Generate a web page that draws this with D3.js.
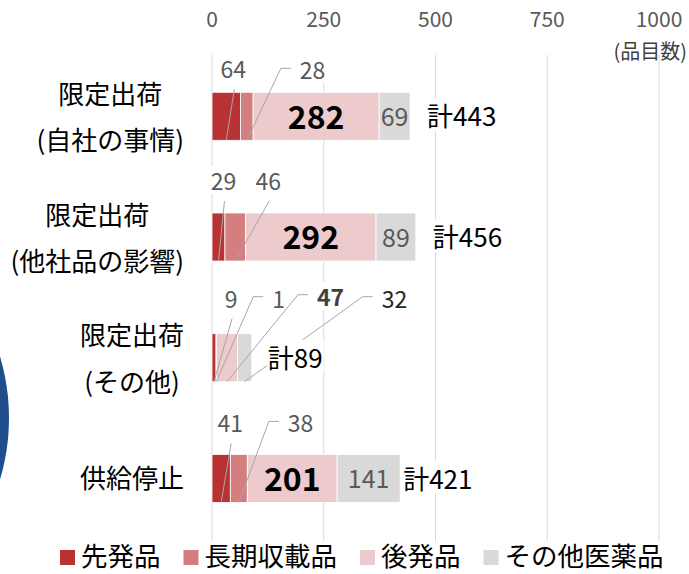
<!DOCTYPE html>
<html>
<head>
<meta charset="utf-8">
<script src="https://cdn.jsdelivr.net/npm/d3@7"></script>
<style>
  body { margin: 0; background: #fff; }
  svg text { font-family: "Noto Sans CJK JP", "Noto Sans", sans-serif; }
</style>
</head>
<body>
<svg width="689" height="574"></svg>
<script>
// data
const categories = [["限定出荷", "(自社の事情)"], ["限定出荷", "(他社品の影響)"], ["限定出荷", "(その他)"], ["供給停止"]];
const seriesNames = ["先発品", "長期収載品", "後発品", "その他医薬品"];
const brand      = [64, 29, 9, 41];
const longListed = [28, 46, 1, 38];
const generic    = [282, 292, 47, 201];
const other      = [69, 89, 32, 141];
const totals     = [443, 456, 89, 421];
const xTicks     = [0, 250, 500, 750, 1000];

const colours = ["#b83234", "#d47e7f", "#edcacc", "#d9d9d9"];

// hand placed callouts (offsets in px from segment centre / bar top)
const callouts = [
  {row: 0, s: 0, dx: 7,   dy: -22},
  {row: 0, s: 1, dx: 53,  dy: -21, elbow: true},
  {row: 1, s: 0, dx: 5,   dy: -31},
  {row: 1, s: 1, dx: 33,  dy: -31},
  {row: 2, s: 0, dx: 17,  dy: -34},
  {row: 2, s: 1, dx: 56,  dy: -34, elbow: true},
  {row: 2, s: 2, dx: 90,  dy: -36, elbow: true, bold: true},
  {row: 2, s: 3, dx: 137, dy: -34, elbow: true, dark: true},
  {row: 3, s: 0, dx: 9,   dy: -30},
  {row: 3, s: 1, dx: 49,  dy: -30, elbow: true}
];
const totalDx = [17, 17, 16, 3];

const svg = d3.select("svg");
const barH = 48;

const xScale = d3.scaleLinear().domain([0, 1000]).range([212, 659]);
const yScale = d3.scalePoint().domain(d3.range(categories.length)).range([116.3, 478.4]);

const series = [brand, longListed, generic, other];
const rows = categories.map(function(c, i) {
  let x0 = 0;
  return series.map(function(s, k) {
    const seg = {row: i, s: k, v: s[i], x0: x0, x1: x0 + s[i]};
    x0 += s[i];
    return seg;
  });
});

// decorative circle at the left edge
svg.append("circle")
    .attr("cx", -206).attr("cy", 418).attr("r", 215)
    .attr("fill", "#1f4e8d");

// gridlines
svg.append("g").selectAll("line")
  .data(xTicks)
  .enter().append("line")
    .attr("x1", xScale).attr("x2", xScale)
    .attr("y1", 55).attr("y2", 541)
    .attr("stroke", "#d9d9d9")
    .attr("stroke-width", 1);

// top axis labels
svg.append("g").selectAll("text")
  .data(xTicks)
  .enter().append("text")
    .attr("x", xScale)
    .attr("y", 20)
    .attr("dy", "0.35em")
    .attr("text-anchor", "middle")
    .attr("font-size", 21)
    .attr("fill", "#595959")
    .text(function(d) { return d; });

svg.append("text")
    .attr("x", 687).attr("y", 52)
    .attr("dy", "0.35em")
    .attr("text-anchor", "end")
    .attr("font-size", 20)
    .attr("fill", "#404040")
    .text("(品目数)");

// category labels, each block centred and right aligned
categories.forEach(function(lines, i) {
  const g = svg.append("g");
  const cy = yScale(i);
  const offs = lines.length === 1 ? [0] : [-21.5, 25];
  const t = g.selectAll("text").data(lines).enter().append("text")
      .attr("y", function(d, j) { return cy + offs[j]; })
      .attr("dy", "0.35em")
      .attr("text-anchor", "middle")
      .attr("font-size", 26)
      .attr("fill", "#000")
      .text(function(d) { return d; });
  const w = d3.max(t.nodes(), function(n) { return n.getComputedTextLength(); });
  t.attr("x", 184 - w / 2);
});

// bars
const bar = svg.append("g").selectAll("g")
  .data(rows)
  .enter().append("g");

bar.selectAll("rect")
  .data(function(d) { return d; })
  .enter().append("rect")
    .attr("x", function(d) { return xScale(d.x0); })
    .attr("width", function(d) { return xScale(d.x1) - xScale(d.x0); })
    .attr("y", function(d) { return yScale(d.row) - barH / 2; })
    .attr("height", barH)
    .attr("fill", function(d) { return colours[d.s]; })
    .attr("stroke", "#fff")
    .attr("stroke-width", 0.8);

// labels inside bars (segments without a callout)
const inside = [];
rows.forEach(function(r) {
  r.forEach(function(seg) {
    if (seg.s >= 2 && !callouts.some(function(c) { return c.row === seg.row && c.s === seg.s; })) inside.push(seg);
  });
});

svg.append("g").selectAll("text")
  .data(inside)
  .enter().append("text")
    .attr("x", function(d) { return (xScale(d.x0) + xScale(d.x1)) / 2; })
    .attr("y", function(d) { return yScale(d.row) + 1; })
    .attr("dy", "0.35em")
    .attr("text-anchor", "middle")
    .attr("font-size", function(d) { return d.s === 2 ? 32 : 25; })
    .attr("font-weight", function(d) { return d.s === 2 ? "bold" : "normal"; })
    .attr("fill", function(d) { return d.s === 2 ? "#000" : "#595959"; })
    .text(function(d) { return d.v; });

// callouts with leader lines
const cg = svg.append("g");
callouts.forEach(function(c) {
  const seg = rows[c.row][c.s];
  const sx = (xScale(seg.x0) + xScale(seg.x1)) / 2;
  const top = yScale(c.row) - barH / 2;
  const bottom = top + barH;
  const lx = sx + c.dx, ly = top + c.dy;
  const pts = c.elbow
    ? [[sx, bottom], [lx - 19, ly - 3], [lx - 9, ly - 3]]
    : [[sx, bottom], [lx + 1, ly + 19]];
  cg.append("path")
      .attr("d", d3.line()(pts))
      .attr("fill", "none")
      .attr("stroke", "#a6a6a6")
      .attr("stroke-width", 1);
  const t = cg.append("text")
      .attr("x", lx)
      .attr("y", ly)
      .attr("dy", "0.35em")
      .attr("text-anchor", c.elbow ? "start" : "middle")
      .attr("font-size", 23)
      .attr("font-weight", c.bold ? "bold" : "normal")
      .attr("fill", c.bold ? "#404040" : (c.dark ? "#262626" : "#595959"))
      .text(seg.v);
  const b = t.node().getBBox();
  cg.insert("rect", function() { return t.node(); })
      .attr("x", b.x - 1).attr("y", b.y + 3)
      .attr("width", b.width + 2).attr("height", b.height - 6)
      .attr("fill", "#fff");
});

// totals
const tg = svg.append("g");
totals.forEach(function(v, i) {
  const t = tg.append("text")
      .attr("x", xScale(v) + totalDx[i])
      .attr("y", yScale(i) + 1)
      .attr("dy", "0.35em")
      .attr("font-size", 26)
      .attr("fill", "#000")
      .text("計" + v);
  const b = t.node().getBBox();
  tg.insert("rect", function() { return t.node(); })
      .attr("x", b.x - 1).attr("y", b.y + 2)
      .attr("width", b.width + 2).attr("height", b.height - 4)
      .attr("fill", "#fff");
});

// legend
const legend = svg.append("g");
let lx = 60;
seriesNames.forEach(function(name, i) {
  legend.append("rect")
      .attr("x", lx).attr("y", 550)
      .attr("width", 15).attr("height", 15)
      .attr("fill", colours[i]);
  const t = legend.append("text")
      .attr("x", lx + 21)
      .attr("y", 557)
      .attr("dy", "0.35em")
      .attr("font-size", 26.5)
      .attr("fill", "#000")
      .text(name);
  lx += 21 + t.node().getComputedTextLength() + 23;
});
</script>
</body>
</html>
